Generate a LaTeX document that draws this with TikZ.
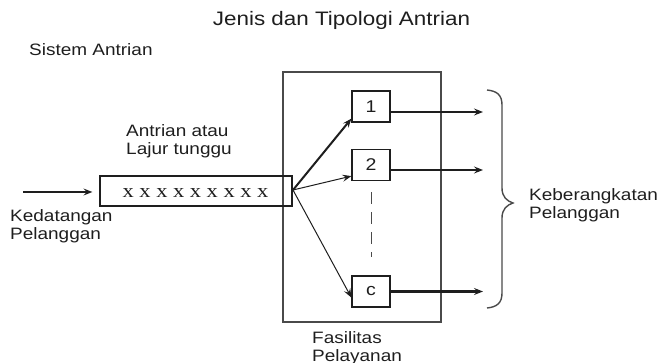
\documentclass[tikz,border=0pt]{standalone}
\usepackage{fontspec}
\setmainfont{Liberation Sans}[FakeStretch=1.15]
\newfontfamily\xfont{Liberation Serif}[FakeStretch=1.15]
\usetikzlibrary{arrows.meta}
\definecolor{ink}{HTML}{1E1E1E}
\definecolor{frame}{HTML}{4A4A4A}
\tikzset{
  lbl/.style={inner sep=0pt, anchor=north west, align=left, text=ink,
    font=\fontsize{16.5}{18.5}\selectfont},
  server/.style={draw=ink, line width=1.2pt, minimum width=38pt, minimum height=31pt,
    inner sep=0pt, text=ink, font=\fontsize{17}{20}\selectfont},
  headarrow/.style={-{Stealth[length=9pt,width=7pt,inset=3.5pt]}},
  thickline/.style={draw=ink, line width=2.2pt, headarrow},
  thinline/.style={draw=ink, line width=1pt, headarrow},
}
\begin{document}
\begin{tikzpicture}[x=1pt, y=-1pt]
\useasboundingbox (0,0) rectangle (665,363);

% headings
\node[inner sep=0pt, anchor=north, text=ink, font=\fontsize{19.5}{22}\selectfont]
  (title) at (341.5,11) {Jenis dan Tipologi Antrian};
\node[lbl] (sys) at (29,43) {Sistem Antrian};

% service facility frame
\node[draw=frame, line width=1.5pt, minimum width=158pt, minimum height=250pt,
  inner sep=0pt] (fac) at (362,197) {};
\node[lbl] (facl) at (312,331) {Fasilitas\\Pelayanan};

% waiting line
\node[draw=ink, line width=1.2pt, minimum width=192pt, minimum height=30pt,
  inner sep=0pt] (q) at (196,191) {};
\node[inner sep=0pt, text=ink, font=\xfont\fontsize{19.5}{22}\selectfont]
  (qx) at (195.5,193.5) {x x x x x x x x x};
\node[lbl] (ql) at (126,124) {Antrian atau\\Lajur tunggu};

% arrivals
\coordinate (in) at (23,192);
\draw[thickline, line width=2pt, shorten >=7pt] (in) -- (q.west |- in);
\node[lbl] (arrl) at (10,209) {Kedatangan\\Pelanggan};

% servers
\node[server] (s1) at (371,106.5) {1};
\node[server] (s2) at (371,165) {2};
\node[server] (sc) at (371,291.5) {c};
\draw[frame, line width=1pt, dash pattern=on 12pt off 8pt] (s2.south) ++(0,11) coordinate (d1)
  (d1) -- (sc.north |- 0,257) coordinate (d2);

% routing from the queue to the servers
\coordinate (qo) at (293,190);
\draw[thickline, line width=2pt] (qo) -- ([yshift=4pt]s1.south west);
\draw[thinline] (qo) -- ([yshift=5pt]s2.south west);
\draw[thinline] (qo) -- ([yshift=10pt]sc.south west);

% departures
\coordinate (o1) at (483,112);
\coordinate (o2) at (483,170);
\coordinate (oc) at (483,291.5);
\draw[thickline] (s1.east |- o1) -- (o1);
\draw[thickline] (s2.east |- o2) -- (o2);
\draw[thickline] (sc.east |- oc) -- (oc);

% brace gathering the departures
\coordinate (bt) at (487,90);
\coordinate (bm) at (513,203);
\coordinate (bb) at (487,308);
\draw[frame, line width=1.4pt]
  (bt) .. controls (497,91) and (502,95) .. (502,105)
  -- (502,188) .. controls (502,197) and (507,201) .. (bm)
  .. controls (507,205) and (502,209) .. (502,218)
  -- (502,293) .. controls (502,303) and (497,307) .. (bb);
\node[lbl] (depl) at (529,188) {Keberangkatan\\Pelanggan};
\end{tikzpicture}
\end{document}
